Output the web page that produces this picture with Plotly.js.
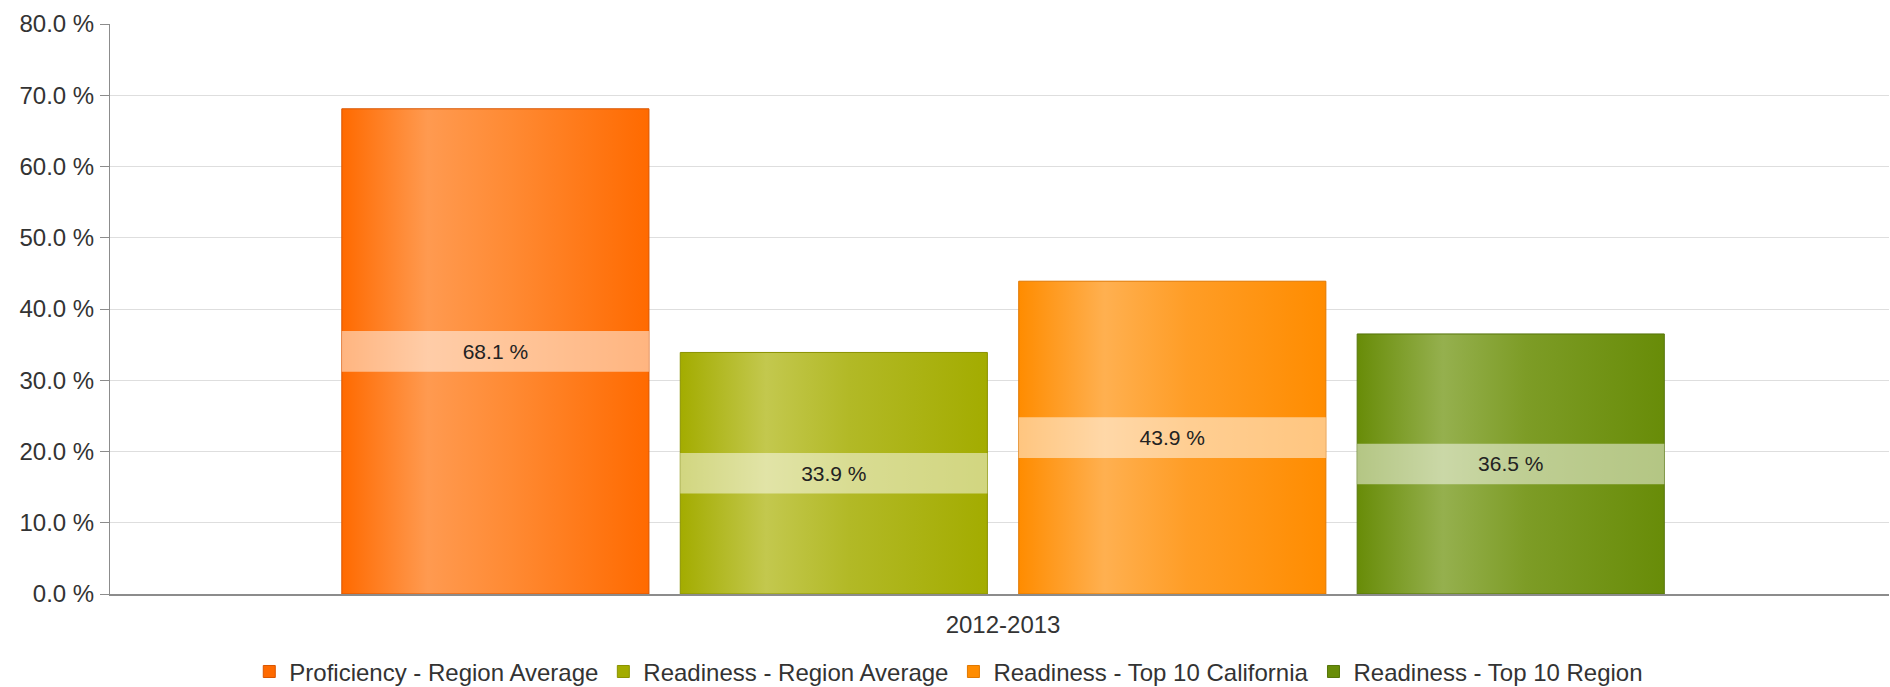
<!DOCTYPE html>
<html>
<head>
<meta charset="utf-8">
<script src="https://cdn.plot.ly/plotly-3.0.1.min.js"></script>
<style>
  html, body { margin: 0; padding: 0; background: #ffffff; }
  #chart { width: 1890px; height: 687px; }
</style>
</head>
<body>
<div id="chart"></div>
<script>
// ---- data ----
const categories = ['2012-2013'];
const seriesNames = [
  'Proficiency - Region Average',
  'Readiness - Region Average',
  'Readiness - Top 10 California',
  'Readiness - Top 10 Region'
];
const proficiencyRegionAverage = [68.1];
const readinessRegionAverage = [33.9];
const readinessTop10California = [43.9];
const readinessTop10Region = [36.5];
const yTickValues = [0, 10, 20, 30, 40, 50, 60, 70, 80];

// ---- styles ----
const seriesValues = [proficiencyRegionAverage, readinessRegionAverage, readinessTop10California, readinessTop10Region];
const baseColors = ['#ff6a00', '#a3ac00', '#ff8c00', '#688c08'];
const lineColors = ['#d95500', '#8a9200', '#e07800', '#56750a'];
const gradients = [
  ['#ff6a00', '#ff9a50', '#ff8a33', '#ff6a00'],
  ['#a3ac00', '#c3c84e', '#b2b926', '#a3ac00'],
  ['#ff8c00', '#ffb050', '#ff9d26', '#ff8c00'],
  ['#688c08', '#95b04e', '#7d9c26', '#688c08']
];
const bandHeight = 5.7; // label band thickness in axis units
const fontFamily = '"Liberation Sans", Arial, sans-serif';

const traces = [];
seriesValues.forEach((vals, i) => {
  traces.push({
    type: 'bar',
    name: seriesNames[i],
    x: categories,
    y: vals,
    offsetgroup: String(i),
    marker: { color: baseColors[i], line: { color: lineColors[i], width: 1 } },
    hoverinfo: 'skip'
  });
});
seriesValues.forEach((vals, i) => {
  traces.push({
    type: 'bar',
    name: seriesNames[i] + ' label',
    showlegend: false,
    x: categories,
    y: vals.map(() => bandHeight),
    base: vals.map(v => v / 2 - bandHeight / 2),
    offsetgroup: String(i),
    marker: { color: 'rgba(255,255,255,0.5)', line: { width: 0 } },
    text: vals.map(v => v.toFixed(1) + ' %'),
    textposition: 'inside',
    insidetextanchor: 'middle',
    textangle: 0,
    constraintext: 'none',
    insidetextfont: { family: fontFamily, size: 21, color: '#222222' },
    hoverinfo: 'skip'
  });
});

const layout = {
  width: 1890,
  height: 687,
  margin: { l: 110, r: 1, t: 24, b: 93 },
  paper_bgcolor: '#ffffff',
  plot_bgcolor: '#ffffff',
  font: { family: fontFamily, size: 24, color: '#333333' },
  barmode: 'group',
  bargap: 0.239,
  bargroupgap: 0.0925,
  showlegend: true,
  legend: {
    orientation: 'h',
    xref: 'container', yref: 'container',
    x: 0.502, xanchor: 'center',
    y: 0.022, yanchor: 'middle',
    font: { family: fontFamily, size: 24, color: '#333333' },
    itemwidth: 30,
    traceorder: 'normal'
  },
  xaxis: {
    type: 'category',
    range: [-0.502, 0.498],
    showline: true,
    linecolor: '#8c8c8c',
    linewidth: 1.5,
    ticks: '',
    showgrid: false,
    ticklabelstandoff: 9,
    tickfont: { family: fontFamily, size: 24, color: '#333333' }
  },
  yaxis: {
    range: [0, 80],
    tickvals: yTickValues,
    ticktext: yTickValues.map(v => v.toFixed(1) + ' %'),
    showline: true,
    linecolor: '#8c8c8c',
    linewidth: 1,
    ticks: 'outside',
    ticklen: 9,
    tickcolor: '#8c8c8c',
    ticklabelstandoff: 1,
    showgrid: true,
    gridcolor: '#dedede',
    gridwidth: 1,
    zeroline: false,
    tickfont: { family: fontFamily, size: 24, color: '#333333' }
  }
};

Plotly.newPlot('chart', traces, layout, { displayModeBar: false, staticPlot: true }).then(gd => {
  const svg = gd.querySelector('.main-svg');
  let defs = svg.querySelector('defs');
  const ns = 'http://www.w3.org/2000/svg';
  gradients.forEach((stops, i) => {
    const lg = document.createElementNS(ns, 'linearGradient');
    lg.setAttribute('id', 'barGrad' + i);
    lg.setAttribute('x1', '0'); lg.setAttribute('y1', '0');
    lg.setAttribute('x2', '1'); lg.setAttribute('y2', '0');
    const offsets = [0, 0.28, 0.55, 1];
    stops.forEach((c, k) => {
      const s = document.createElementNS(ns, 'stop');
      s.setAttribute('offset', offsets[k]);
      s.setAttribute('stop-color', c);
      lg.appendChild(s);
    });
    defs.appendChild(lg);
  });
  const barTraces = gd.querySelectorAll('.barlayer .trace');
  barTraces.forEach((t, i) => {
    if (i < gradients.length) {
      t.querySelectorAll('.point path').forEach(p => { p.style.fill = 'url(#barGrad' + i + ')'; });
    }
  });
});
</script>
</body>
</html>
